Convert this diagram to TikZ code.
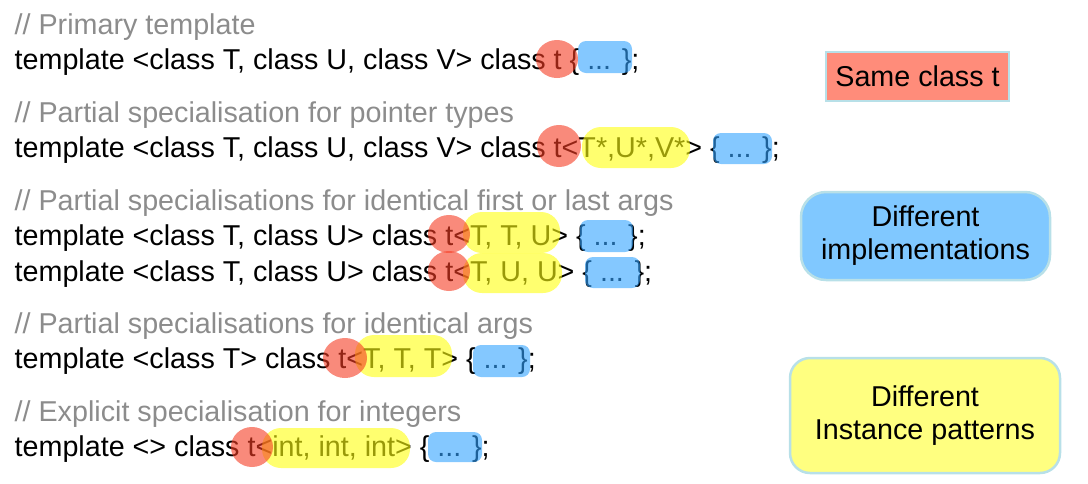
\documentclass[tikz,border=0pt]{standalone}
\usepackage{fontspec}
\setmainfont{Liberation Sans}
\usetikzlibrary{shapes.geometric}
\definecolor{cmt}{RGB}{140,140,140}
\definecolor{hlred}{RGB}{245,60,35}
\definecolor{hlyel}{RGB}{255,255,15}
\definecolor{hlblue}{RGB}{50,163,255}
\definecolor{boxred}{RGB}{255,140,122}
\definecolor{boxblue}{RGB}{128,200,255}
\definecolor{boxyel}{RGB}{255,255,128}
\definecolor{boxedge}{RGB}{184,224,232}
\begin{document}
\begin{tikzpicture}[x=1pt,y=-1pt,
  every node/.style={font=\fontsize{28.7pt}{33pt}\selectfont},
  codeline/.style={anchor=base west, inner sep=0pt, text=black},
  cmtline/.style={anchor=base west, inner sep=0pt, text=cmt},
  hlt/.style={ellipse, fill=hlred, fill opacity=0.6, draw=none, inner sep=0pt},
  hlargs/.style={rectangle, rounded corners=19pt, fill=hlyel, fill opacity=0.6, draw=none, inner sep=0pt},
  hlbody/.style={rectangle, rounded corners=8pt, fill=hlblue, fill opacity=0.6, draw=none, inner sep=0pt},
  legend/.style={draw=boxedge, line width=2.5pt, align=center, inner sep=0pt, text=black}
]
\useasboundingbox (0,0) rectangle (1088,483);

% comments
\node[cmtline] (c1) at (14.5,34) {// Primary template};
\node[cmtline] (c2) at (14.5,122) {// Partial specialisation for pointer types};
\node[cmtline] (c3) at (14.5,210) {// Partial specialisations for identical first or last args};
\node[cmtline] (c4) at (14.5,333) {// Partial specialisations for identical args};
\node[cmtline] (c5) at (14.5,421) {// Explicit specialisation for integers};

% code lines
\node[codeline] (l1) at (14.5,69) {template <class T, class U, class V> class t \{ ... \};};
\node[codeline] (l2) at (14.5,157) {template <class T, class U, class V> class t<T*,U*,V*> \{ ... \};};
\node[codeline] (l3a) at (14.5,245) {template <class T, class U> class t<T, T, U> \{ ... \};};
\node[codeline] (l3b) at (14.5,281) {template <class T, class U> class t<T, U, U> \{ ... \};};
\node[codeline] (l4) at (14.5,368) {template <class T> class t<T, T, T> \{ ... \};};
\node[codeline] (l5) at (14.5,456) {template <> class t<int, int, int> \{ ... \};};

% highlights: template arguments
\node[hlargs, minimum width=108pt, minimum height=41pt] (y2) at (636,147.5) {};
\node[hlargs, minimum width=97pt, minimum height=41pt] (y3a) at (511.5,232.5) {};
\node[hlargs, minimum width=99pt, minimum height=40pt] (y3b) at (512.5,273) {};
\node[hlargs, minimum width=97pt, minimum height=42pt] (y4) at (403.5,356) {};
\node[hlargs, minimum width=148pt, minimum height=40pt] (y5) at (336,448) {};

% highlights: class name
\node[hlt, minimum width=42pt, minimum height=38pt] (r1) at (557,59) {};
\node[hlt, minimum width=44pt, minimum height=42pt] (r2) at (559,146) {};
\node[hlt, minimum width=42pt, minimum height=38pt] (r3a) at (449,234) {};
\node[hlt, minimum width=42pt, minimum height=40pt] (r3b) at (449,271) {};
\node[hlt, minimum width=44pt, minimum height=40pt] (r4) at (345,358) {};
\node[hlt, minimum width=42pt, minimum height=40pt] (r5) at (252,447) {};

% highlights: bodies
\node[hlbody, minimum width=54pt, minimum height=32pt] (b1) at (605,57) {};
\node[hlbody, minimum width=59pt, minimum height=31pt] (b2) at (742.5,148.5) {};
\node[hlbody, minimum width=53pt, minimum height=32pt] (b3a) at (606.5,236) {};
\node[hlbody, minimum width=55pt, minimum height=31pt] (b3b) at (612.5,272.5) {};
\node[hlbody, minimum width=57pt, minimum height=32pt] (b4) at (501.5,361) {};
\node[hlbody, minimum width=54pt, minimum height=30pt] (b5) at (455,447) {};

% legend boxes
\node[legend, fill=boxred, minimum width=183pt, minimum height=49pt] (k1) at (917.5,76.5) {Same class t};
\node[legend, fill=boxblue, rounded corners=25pt, minimum width=249pt, minimum height=88pt] (k2) at (925.5,236) {Different\\implementations};
\node[legend, fill=boxyel, rounded corners=20pt, minimum width=270pt, minimum height=115pt] (k3) at (925,415.5) {Different\\Instance patterns};
\end{tikzpicture}
\end{document}
